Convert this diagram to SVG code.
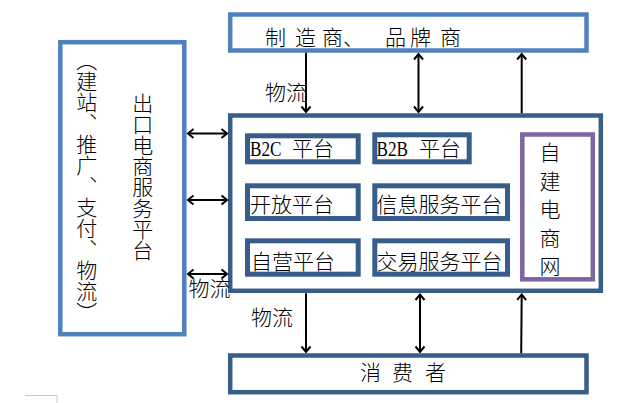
<svg xmlns="http://www.w3.org/2000/svg" width="640" height="403" viewBox="0 0 640 403">
<style>
.lb{fill:#fff;stroke:#4F81BD;stroke-width:4.5}
.db{fill:#fff;stroke:#385D8A;stroke-width:4.5}
.ib{fill:#fff;stroke:#385D8A;stroke-width:5}
.pb{fill:#fff;stroke:#8064A2;stroke-width:4.5}
text{font-family:"Noto Sans CJK SC","Liberation Serif",serif;font-size:21px;fill:#000;font-weight:300}
.lat{font-family:"Liberation Serif",serif}
.vt{writing-mode:vertical-rl;text-orientation:mixed;font-feature-settings:"vert" 1,"vkna" 1}
.c{stroke:#000;stroke-width:2;fill:none}
</style>
<defs>
<marker id="ah" markerUnits="userSpaceOnUse" markerWidth="14" markerHeight="14" refX="7" refY="7" orient="auto-start-reverse" viewBox="0 0 14 14">
<path d="M1.5,2.5 L7,7 L1.5,11.5" fill="none" stroke="#000" stroke-width="2"/>
</marker>
</defs>
<path d="M25,395.5 H57 V403" fill="none" stroke="#c8c8c8" stroke-width="1"/>
<g id="maker">
<rect class="lb" x="230.2" y="14.5" width="356.3" height="36"/>
<text x="265 275 295 307 322 343 364 385 398 410 428 440" y="45" xml:space="preserve">制 造 商、 品 牌 商</text>
</g>
<g id="export">
<rect class="lb" x="60.3" y="42.2" width="124" height="292"/>
<text class="vt" x="86.7" y="50" font-size="21.7">（建站、推广、支付、物流）</text>
<text class="vt" x="142.8" y="93" font-size="21.7">出口电商服务平台</text>
</g>
<g id="platform">
<rect class="db" x="230.2" y="115.5" width="370.6" height="175.3"/>
</g>
<g id="b2c">
<rect class="ib" x="247.5" y="135.8" width="110.7" height="26"/>
<text y="156"><tspan class="lat" x="250" textLength="31.5" lengthAdjust="spacingAndGlyphs">B2C</tspan><tspan x="292">平台</tspan></text>
</g>
<g id="b2b">
<rect class="ib" x="374.8" y="134.8" width="94.4" height="27"/>
<text y="156"><tspan class="lat" x="376.5" textLength="31.5" lengthAdjust="spacingAndGlyphs">B2B</tspan><tspan x="419">平台</tspan></text>
</g>
<g id="open">
<rect class="ib" x="247.5" y="185.8" width="110.7" height="32.7"/>
<text x="250" y="212">开放平台</text>
</g>
<g id="info">
<rect class="ib" x="374.8" y="185.8" width="132.7" height="32.7"/>
<text x="376.5" y="212">信息服务平台</text>
</g>
<g id="self">
<rect class="ib" x="247.5" y="240.8" width="110.7" height="33.4"/>
<text x="251" y="268.5">自营平台</text>
</g>
<g id="trade">
<rect class="ib" x="374.8" y="240.8" width="132.7" height="33.4"/>
<text x="376.5" y="268.5">交易服务平台</text>
</g>
<g id="ownsite">
<rect class="pb" x="522.3" y="134.5" width="70.5" height="144.8"/>
<text x="539.5 539.5 539.5 539.5 539.5" y="160 188.5 217 245.5 274">自建电商网</text>
</g>
<g id="consumer">
<rect class="db" x="230.2" y="355.5" width="356.3" height="36.7"/>
<text x="360 381 392 413 425" y="379.5" xml:space="preserve">消 费 者</text>
</g>
<g id="connectors">
<line class="c" x1="306" y1="52.7" x2="306" y2="112" marker-end="url(#ah)"/>
<line class="c" x1="418.5" y1="54" x2="418.5" y2="112" marker-start="url(#ah)" marker-end="url(#ah)"/>
<line class="c" x1="521.7" y1="113.3" x2="521.7" y2="54" marker-end="url(#ah)"/>
<line class="c" x1="306" y1="293.3" x2="306" y2="352" marker-end="url(#ah)"/>
<line class="c" x1="420" y1="294.5" x2="420" y2="352" marker-start="url(#ah)" marker-end="url(#ah)"/>
<line class="c" x1="521.2" y1="353.3" x2="521.7" y2="294.5" marker-end="url(#ah)"/>
<line class="c" x1="188" y1="133.5" x2="227" y2="133.5" marker-start="url(#ah)" marker-end="url(#ah)"/>
<line class="c" x1="188" y1="200" x2="227" y2="200" marker-start="url(#ah)" marker-end="url(#ah)"/>
<line class="c" x1="188" y1="274" x2="227" y2="274" marker-start="url(#ah)" marker-end="url(#ah)"/>
<text x="265" y="100">物流</text>
<text x="188.5" y="296">物流</text>
<text x="251" y="325">物流</text>
</g>
</svg>
